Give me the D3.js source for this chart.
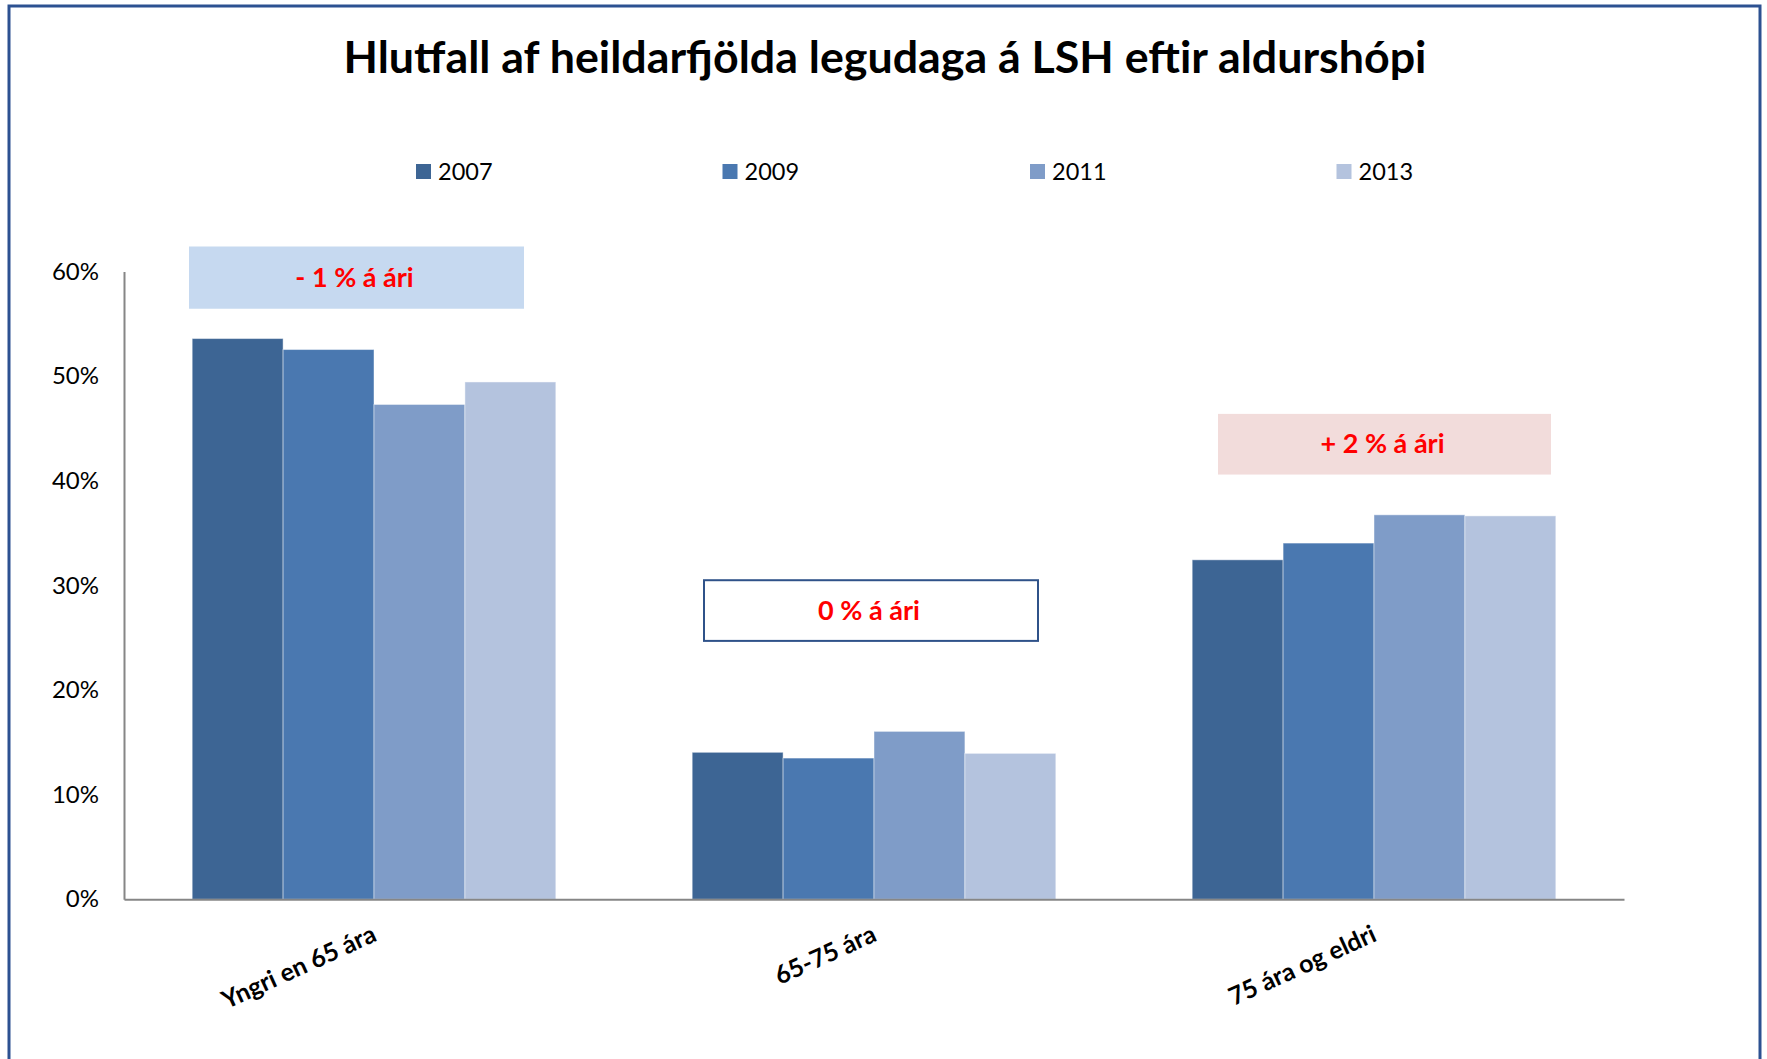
<!DOCTYPE html>
<html>
<head>
<meta charset="utf-8">
<script src="https://cdn.jsdelivr.net/npm/d3@7"></script>
<style>
  html, body { margin: 0; padding: 0; background: #fff; }
  svg { display: block; }
  text { font-family: Lato, "Open Sans", sans-serif; }
</style>
</head>
<body>
<svg id="chart" width="1767" height="1059"></svg>
<script>
// ---- data ----
const categories = ["Yngri en 65 ára", "65-75 ára", "75 ára og eldri"];
const years = ["2007", "2009", "2011", "2013"];
const values2007 = [53.6, 14.05, 32.45];
const values2009 = [52.55, 13.5, 34.05];
const values2011 = [47.3, 16.05, 36.75];
const values2013 = [49.45, 13.95, 36.65];
const yTicks = [0, 10, 20, 30, 40, 50, 60];
const title = "Hlutfall af heildarfjölda legudaga á LSH eftir aldurshópi";
// annotation boxes in data units (x: category index units, y: percent)
const annoLabels = ["- 1 % á ári", "0 % á ári", "+ 2 % á ári"];
const annoX0 = [0.13, 1.16, 2.188];
const annoX1 = [0.80, 1.828, 2.854];
const annoYTop = [62.4, 30.5, 46.4];
const annoYBottom = [56.45, 24.7, 40.6];

// ---- styles ----
const colors = ["#3d6594", "#4a78b0", "#7f9cc8", "#b4c3de"];
const annoFill = ["#c6d9f0", "#ffffff", "#f2dcdb"];
const annoStroke = ["none", "#2f5289", "none"];

const series = [values2007, values2009, values2011, values2013];
const svg = d3.select("#chart");

// outer border
svg.append("rect").attr("x", 9).attr("y", 6).attr("width", 1751).attr("height", 1120)
  .attr("fill", "none").attr("stroke", "#2c5191").attr("stroke-width", 3);

const plotL = 124, plotR = 1624, plotT = 271.6, plotB = 899.3;
const x = d3.scaleBand().domain(categories).range([plotL, plotR])
  .paddingInner(1.5 / 5.5).paddingOuter(0.75 / 5.5);
const xs = d3.scaleBand().domain(years).range([0, x.bandwidth()]).padding(0);
const y = d3.scaleLinear().domain([0, 60]).range([plotB, plotT]);
const xLin = d3.scaleLinear().domain([0, categories.length]).range([plotL, plotR]);

// title
const t = svg.append("text").attr("x", 885).attr("y", 72.5)
  .attr("text-anchor", "middle").attr("font-weight", "bold")
  .attr("font-size", 40).attr("fill", "#000").text(title);
const tw = t.node().getComputedTextLength();
t.attr("font-size", 40 * 1083 / tw);

// legend
const legendX = [416, 722.5, 1030, 1336.5];
const lg = svg.append("g");
years.forEach((yr, i) => {
  lg.append("rect").attr("x", legendX[i]).attr("y", 164).attr("width", 15).attr("height", 15)
    .attr("fill", colors[i]);
  lg.append("text").attr("x", legendX[i] + 22).attr("y", 180)
    .attr("font-size", 23.5).attr("fill", "#000").text(yr);
});

// y axis
const yAxis = d3.axisLeft(y).tickValues(yTicks).tickSize(0).tickPadding(25)
  .tickFormat(d => d + "%");
const ya = svg.append("g").attr("transform", `translate(${plotL},0)`).call(yAxis);
ya.select(".domain").attr("stroke", "#868686").attr("stroke-width", 2);
ya.selectAll("text").attr("font-size", 24).attr("fill", "#000")
  .style("font-family", "Lato, 'Open Sans', sans-serif");

// bars
const groups = svg.append("g").selectAll("g").data(categories).join("g")
  .attr("transform", d => `translate(${x(d)},0)`);
groups.selectAll("rect").data((c, ci) => years.map((yr, yi) => ({ yr, yi, v: series[yi][ci] })))
  .join("rect")
  .attr("x", d => xs(d.yr)).attr("width", xs.bandwidth())
  .attr("y", d => y(d.v)).attr("height", d => y(0) - y(d.v))
  .attr("fill", d => colors[d.yi])
  .attr("stroke", "rgba(255,255,255,0.45)").attr("stroke-width", 1);

// x axis
const xAxis = d3.axisBottom(x).tickSize(0).tickFormat("");
const xa = svg.append("g").attr("transform", `translate(0,${plotB})`).call(xAxis);
xa.select(".domain").attr("stroke", "#868686").attr("stroke-width", 2);

// x labels
svg.append("g").selectAll("text").data(categories).join("text")
  .attr("transform", d => `translate(${x(d) + x.bandwidth() / 2 + 4},${plotB + 41}) rotate(-24.5)`)
  .attr("text-anchor", "end").attr("font-weight", "bold").attr("font-size", 25)
  .attr("fill", "#000").text(d => d);

// annotation boxes
const ag = svg.append("g");
annoLabels.forEach((lab, i) => {
  const x0 = xLin(annoX0[i]), x1 = xLin(annoX1[i]);
  const y0 = y(annoYTop[i]), y1 = y(annoYBottom[i]);
  ag.append("rect").attr("x", x0).attr("y", y0).attr("width", x1 - x0).attr("height", y1 - y0)
    .attr("fill", annoFill[i]).attr("stroke", annoStroke[i]).attr("stroke-width", 2);
  ag.append("text").attr("x", (x0 + x1) / 2 - 2).attr("y", (y0 + y1) / 2 + 9)
    .attr("text-anchor", "middle").attr("font-weight", "bold").attr("font-size", 27)
    .attr("fill", "#ff0000").text(lab);
});
</script>
</body>
</html>
